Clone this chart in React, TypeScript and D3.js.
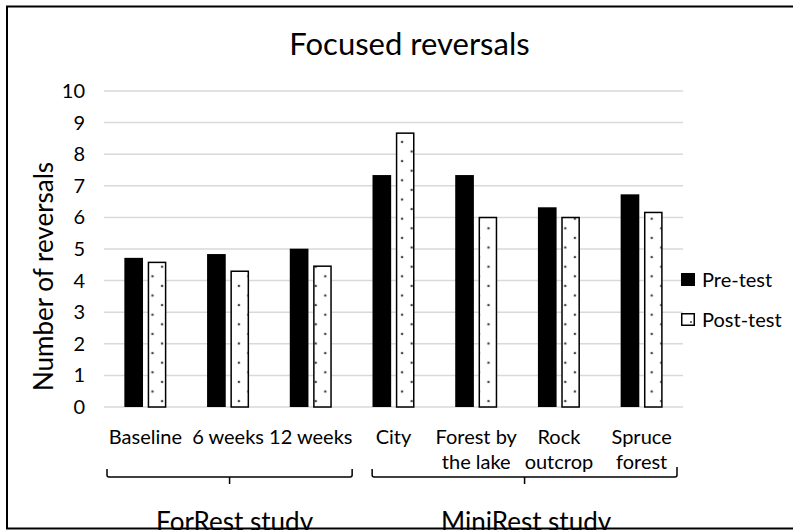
import React from "react";
import * as d3 from "d3";

const categories = ["Baseline", "6 weeks", "12 weeks", "City", "Forest by the lake", "Rock outcrop", "Spruce forest"];
const categoryLines = [["Baseline"], ["6 weeks"], ["12 weeks"], ["City"], ["Forest by", "the lake"], ["Rock", "outcrop"], ["Spruce", "forest"]];
const series = ["Pre-test", "Post-test"];
const preTest = [4.72, 4.84, 5.01, 7.34, 7.34, 6.32, 6.73];
const postTest = [4.6, 4.32, 4.48, 8.69, 6.02, 6.02, 6.18];
const yTicks = [0, 1, 2, 3, 4, 5, 6, 7, 8, 9, 10];
const groupNames = ["ForRest study", "MiniRest study"];
const groupFirst = [0, 3];
const groupLast = [2, 6];

const FONT = "Lato, 'Open Sans', sans-serif";

export default function App() {
  const W = 793, H = 530;
  const left = 104, right = 683, top = 91, bottom = 407;
  const x0 = d3.scaleBand<string>().domain(categories).range([left, right]).paddingInner(0).paddingOuter(0);
  const bw = x0.bandwidth();
  const x1 = d3.scaleBand<string>().domain(series).range([bw / 2 - 21, bw / 2 + 21]).paddingInner(0.2);
  const y = d3.scaleLinear().domain([0, 10]).range([bottom, top]);
  const values = [preTest, postTest];

  const braceY = 477;
  const braces = groupNames.map((name, g) => {
    const l = g === 0 ? (x0(categories[groupFirst[g]]) as number) + 3 : (x0(categories[groupFirst[g]]) as number) + 20;
    const r = g === 0 ? (x0(categories[groupLast[g]]) as number) + bw : (x0(categories[groupLast[g]]) as number) + bw - 6;
    const m = (l + r) / 2;
    const lTop = 469, rTop = g === 0 ? 469 : 467;
    const path = `M${l},${lTop} L${l},${braceY - 2} Q${l},${braceY} ${l + 2},${braceY} L${r - 2},${braceY} Q${r},${braceY} ${r},${braceY - 2} L${r},${rTop} M${m},${braceY} L${m},${braceY + 7}`;
    return { name, path, m, g };
  });

  return (
    <svg width={W} height={H} style={{ position: "absolute", left: 0, top: 0, display: "block", background: "#fff" }} fontFamily={FONT}>
      <defs>
        <pattern id="dots" patternUnits="userSpaceOnUse" x={3.7} y={12.3} width={19.2} height={19.2}>
          <rect width={19.2} height={19.2} fill="#fff" />
          <circle cx={4.8} cy={4.8} r={1.3} fill="#444" />
          <circle cx={14.4} cy={14.4} r={1.3} fill="#444" />
        </pattern>
      </defs>
      <rect x={0} y={0} width={W} height={H} fill="#fff" />
      {/* title */}
      <text x={409.5} y={55} textAnchor="middle" fontSize={31} fill="#000">Focused reversals</text>
      {/* gridlines */}
      {yTicks.map((t) => (
        <line key={t} x1={left} x2={right} y1={y(t)} y2={y(t)} stroke="#d9d9d9" strokeWidth={1.5} />
      ))}
      {/* y tick labels */}
      {yTicks.map((t) => (
        <text key={"l" + t} x={85} y={y(t) + 7} textAnchor="end" fontSize={20} fill="#000">{t}</text>
      ))}
      {/* y axis title */}
      <text transform={`translate(53,276.5) rotate(-90)`} textAnchor="middle" fontSize={26} fill="#000">Number of reversals</text>
      {/* bars */}
      {categories.map((c, i) => {
        const cx = x0(c) as number;
        return (
          <g key={c}>
            {series.map((s, k) => {
              const v = values[k][i];
              const bx = cx + (x1(s) as number);
              const w = x1.bandwidth();
              if (k === 0) {
                return <rect key={s} x={bx} y={y(v)} width={w} height={y(0) - y(v)} fill="#000" />;
              }
              return (
                <rect key={s} x={bx + 0.75} y={y(v) + 0.75} width={w - 1.5} height={y(0) - y(v) - 0.75} fill="url(#dots)" stroke="#000" strokeWidth={1.5} />
              );
            })}
            {categoryLines[i].map((ln, j) => (
              <text key={j} x={cx + bw / 2} y={444 + j * 24.5} textAnchor="middle" fontSize={20} fill="#000">{ln}</text>
            ))}
          </g>
        );
      })}
      {/* legend */}
      <rect x={681} y={273} width={14} height={13} fill="#000" />
      <text x={702} y={287} fontSize={20} fill="#000">{series[0]}</text>
      <rect x={681.75} y={313.75} width={12.5} height={11.5} fill="#fff" stroke="#000" strokeWidth={1.5} />
      <circle cx={691} cy={322} r={1} fill="#444" />
      <text x={702} y={327} fontSize={20} fill="#000">{series[1]}</text>
      {/* braces */}
      {braces.map((b) => (
        <g key={b.name}>
          <path d={b.path} fill="none" stroke="#000" strokeWidth={1.5} />
          <text x={b.g === 0 ? b.m + 5 : b.m + 1.5} y={531} textAnchor="middle" fontSize={26} fill="#000">{b.name}</text>
        </g>
      ))}
      {/* outer border */}
      <rect x={7} y={6.5} width={820} height={522} fill="none" stroke="#000" strokeWidth={2} />
    </svg>
  );
}
